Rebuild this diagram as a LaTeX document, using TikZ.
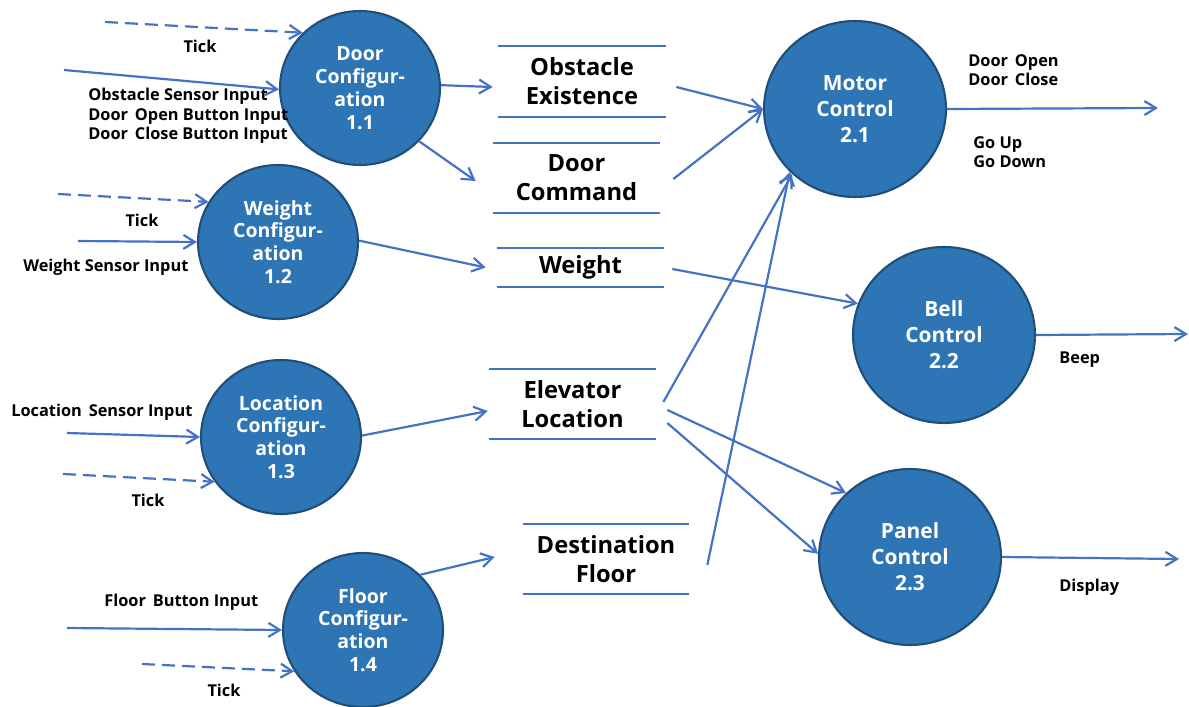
\documentclass[tikz,border=0pt]{standalone}
\usepackage{fontspec}
\setmainfont{Open Sans}
\usetikzlibrary{shapes.geometric,arrows.meta,calc}
\definecolor{procfill}{HTML}{2E75B6}
\definecolor{procedge}{HTML}{1F4E79}
\definecolor{flowblue}{HTML}{4472C4}
\newcommand{\wsp}{\hspace{0.42em}}
\begin{document}
\begin{tikzpicture}[x=0.02cm,y=-0.02cm,
  proc/.style={ellipse, fill=procfill, draw=procedge, line width=1.2pt,
    text=white, inner sep=0pt, align=center,
    font=\bfseries\fontsize{11.1}{13}\selectfont,
    minimum width=3.2cm, minimum height=3.08cm},
  ctrl/.style={proc, minimum width=3.64cm, minimum height=3.52cm,
    font=\bfseries\fontsize{11.9}{14.7}\selectfont},
  store/.style={inner sep=0pt, align=center, minimum height=1.4cm,
    font=\bfseries\fontsize{13.5}{16.5}\selectfont},
  storeline/.style={draw=flowblue, line width=1.25pt},
  flow/.style={draw=flowblue, line width=1.25pt,
    -{Straight Barb[length=2.3mm,width=2.8mm]}},
  tickflow/.style={flow, dash pattern=on 0.26cm off 0.14cm},
  lbl/.style={inner sep=0pt, align=left,
    font=\bfseries\fontsize{9.3}{11}\selectfont},
]
\useasboundingbox (0,0) rectangle (1189,706);

% processes
\node[proc] (door)   at (360,88)  {Door\\Configur-\\ation\\1.1};
\node[proc] (weight) at (278,242) {Weight\\Configur-\\ation\\1.2};
\node[proc] (loc)    at (281,437) {Location\\Configur-\\ation\\1.3};
\node[proc] (floor)  at (363,630) {Floor\\Configur-\\ation\\1.4};
\node[ctrl] (motor)  at (855,109) {Motor\\Control\\2.1};
\node[ctrl] (bell)   at (944,335) {Bell\\Control\\2.2};
\node[ctrl] (panel)  at (910,557) {Panel\\Control\\2.3};

% data stores
\node[store, minimum width=3.36cm] (obst) at (582,81.5) {Obstacle\\Existence};
\node[store, minimum width=3.34cm] (cmd)  at (576.5,178) {Door\\Command};
\node[store, minimum width=3.34cm, minimum height=0.78cm] (wst) at (580.5,267.5) {Weight};
\node[store, minimum width=3.34cm] (elev) at (572.5,404) {Elevator\\Location};
\node[store, minimum width=3.32cm] (dest) at (606,559) {Destination\\Floor};
\foreach \s in {obst,cmd,wst,elev,dest}
  \draw[storeline] (\s.north west) -- (\s.north east)
                   (\s.south west) -- (\s.south east);

% free ends of external flows
\coordinate (t1) at (105,22);
\coordinate (i1) at (64,70);
\coordinate (t2) at (58,194);
\coordinate (i2) at (78,241);
\coordinate (i3) at (67,433);
\coordinate (t3) at (63,474);
\coordinate (i4) at (67,628);
\coordinate (t4) at (142,664);
\coordinate (o1) at (1158,108);
\coordinate (o2) at (1188,334);
\coordinate (o3) at (1179,559);

% door configuration flows
\draw[tickflow] (t1) -- (door.136);
\draw[flow] (i1) -- (door.181);
\draw[flow] (door.2) -- ($(obst.west)+(-5,5.5)$);
\draw[flow] (door.-42) -- ($(cmd.west)+(-17,3)$);
\draw[flow] ($(obst.east)+(10,5.5)$) -- (motor.180);
\draw[flow] ($(cmd.east)+(13,1)$) -- (motor.180);
\draw[flow] (motor.east) -- (o1);

% weight flows
\draw[tickflow] (t2) -- (weight.150);
\draw[flow] (i2) -- (weight.180);
\draw[flow] (weight.1) -- ($(wst.west)+(-11,0)$);
\draw[flow] ($(wst.east)+(8,1.5)$) -- (bell.160);
\draw[flow] (bell.east) -- (o2);

% location flows
\draw[flow] (i3) -- (loc.180);
\draw[tickflow] (t3) -- (loc.214);
\draw[flow] (loc.1) -- ($(elev.west)+(-1,7)$);
\draw[flow] ($(elev.east)+(7,-2)$) -- (motor.226);
\draw[flow] ($(elev.east)+(11,6)$) -- (panel.135);
\draw[flow] ($(elev.east)+(11,19)$) -- (panel.178);
\draw[flow] (panel.east) -- (o3);

% floor flows
\draw[flow] (i4) -- (floor.180);
\draw[tickflow] (t4) -- (floor.211);
\draw[flow] (floor.44) -- ($(dest.west)+(-28,-2)$);
\draw[flow] ($(dest.east)+(18,6)$) -- (motor.224);

% flow labels
\node[lbl] (l1) at (200,46) {Tick};
\node[lbl, anchor=west] (l2) at (88,116) {Obstacle Sensor Input\\Door\wsp Open Button Input\\Door\wsp Close Button Input};
\node[lbl] (l3) at (142,220) {Tick};
\node[lbl, anchor=west] (l4) at (23,267) {Weight Sensor Input};
\node[lbl, anchor=west] (l5) at (11,412) {Location\wsp Sensor Input};
\node[lbl] (l6) at (148,500) {Tick};
\node[lbl, anchor=west] (l7) at (104,602) {Floor\wsp Button Input};
\node[lbl] (l8) at (224,690) {Tick};
\node[lbl, anchor=west] (l9) at (968,70) {Door\wsp Open\\Door\wsp Close};
\node[lbl, anchor=west] (l10) at (973,152) {Go Up\\Go Down};
\node[lbl, anchor=west] (l11) at (1059,360) {Beep};
\node[lbl, anchor=west] (l12) at (1059,587) {Display};
\end{tikzpicture}
\end{document}
